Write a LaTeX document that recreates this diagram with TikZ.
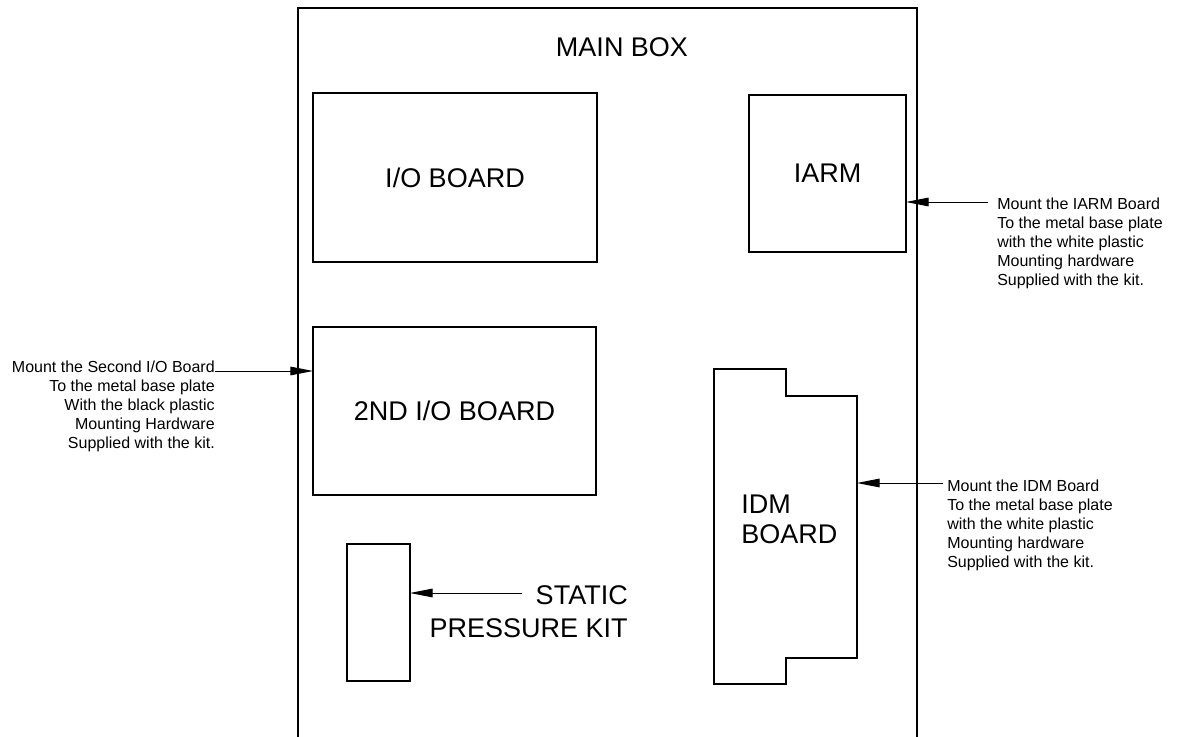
\documentclass[tikz,border=0pt]{standalone}
\usepackage{fontspec}
\setmainfont{Liberation Sans}
\usetikzlibrary{arrows.meta}
\begin{document}
\begin{tikzpicture}[x=0.75pt,y=-0.75pt,
  outerbox/.style={line width=1.8pt},
  board/.style={draw, line width=1.2pt, inner sep=0pt, outer sep=0pt},
  thinboard/.style={board, line width=0.9pt},
  big/.style={font=\fontsize{20.25}{24}\selectfont, inner sep=0pt},
  note/.style={font=\fontsize{12}{14.25}\selectfont, inner sep=0pt},
  callout/.style={line width=0.7pt, -{Triangle[length=17pt,width=6.5pt]}}]
\useasboundingbox (0,0) rectangle (1188,737);

% main box (open at the bottom)
\draw[outerbox] (298,737) -- (298,8) -- (917,8) -- (917,737);
\node[big] (mainlbl) at (622,47) {MAIN BOX};

% boards
\node[thinboard, anchor=north west, minimum width=213pt, minimum height=126.75pt,
      big] (io) at (313,93) {I/O BOARD};
\node[thinboard, anchor=north west, minimum width=212.25pt, minimum height=126pt,
      big] (io2) at (313,327) {2ND I/O BOARD};
\node[board, anchor=north west, minimum width=117.75pt, minimum height=117.75pt,
      big] (iarm) at (749,95) {IARM};
\node[board, anchor=north west, minimum width=47.25pt, minimum height=102.75pt]
      (spk) at (347,544) {};

% IDM board outline
\draw[line width=1.2pt] (714,369) -- (786,369) -- (786,396) -- (857,396)
  -- (857,658) -- (786,658) -- (786,684) -- (714,684) -- cycle;
\coordinate (idmE) at (857,483);
\node[big, anchor=north west, align=left,
      font=\fontsize{20.25}{22.5}\selectfont] (idmlbl) at (741,495) {IDM\\BOARD};

% callout: IARM
\node[note, anchor=north west, align=left] (iarmnote) at (997,198)
  {Mount the IARM Board\\To the metal base plate\\with the white plastic\\Mounting hardware\\Supplied with the kit.};
\coordinate (c1) at (988,202);
\draw[callout] (c1) -- (c1 -| iarm.east);

% callout: second I/O board
\node[note, anchor=north east, align=right] (io2note) at (215,361)
  {Mount the Second I/O Board\\To the metal base plate\\With the black plastic\\Mounting Hardware\\Supplied with the kit.};
\coordinate (c2) at (215,371);
\draw[callout] (c2) -- (c2 -| io2.west);

% callout: IDM board
\node[note, anchor=north west, align=left] (idmnote) at (947,480)
  {Mount the IDM Board\\To the metal base plate\\with the white plastic\\Mounting hardware\\Supplied with the kit.};
\coordinate (c3) at (943,483);
\draw[callout] (c3) -- (idmE);

% callout: static pressure kit
\node[big, anchor=north east, align=right,
      font=\fontsize{20.25}{24.75}\selectfont] (spklbl) at (628,585) {STATIC\\PRESSURE KIT};
\coordinate (c4) at (522,593);
\draw[callout] (c4) -- (c4 -| spk.east);
\end{tikzpicture}
\end{document}
